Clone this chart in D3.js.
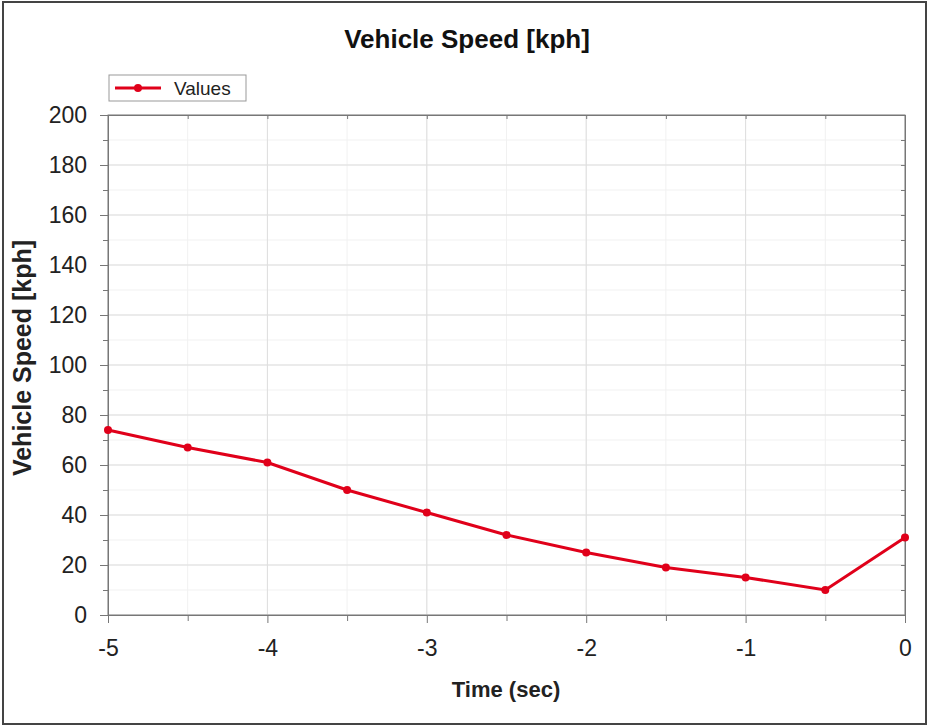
<!DOCTYPE html>
<html>
<head>
<meta charset="utf-8">
<script src="https://cdn.jsdelivr.net/npm/d3@7"></script>
<style>
  body { margin: 0; background: #fff; }
  text { font-family: "Liberation Sans", Arial, sans-serif; }
</style>
</head>
<body>
<svg id="chart" width="930" height="727"></svg>
<script>
// data
var times = [-5, -4.5, -4, -3.5, -3, -2.5, -2, -1.5, -1, -0.5, 0];
var speeds = [74, 67, 61, 50, 41, 32, 25, 19, 15, 10, 31];
var xTicks = [-5, -4, -3, -2, -1, 0];
var yTicks = [0, 20, 40, 60, 80, 100, 120, 140, 160, 180, 200];
var seriesName = "Values";

var svg = d3.select("#chart"),
  W = 930, H = 727,
  m = {left: 108, right: 25, top: 115, bottom: 112},
  x = d3.scaleLinear().domain([-5, 0]).range([m.left, W - m.right]),
  y = d3.scaleLinear().domain([0, 200]).range([H - m.bottom, m.top]),
  red = "#e0001a";

// outer frame
svg.append("rect").attr("x", 3).attr("y", 2).attr("width", W - 7).attr("height", H - 5)
  .attr("fill", "#fff").attr("stroke", "#444").attr("stroke-width", 2);

// grid, minor then major
var grid = svg.append("g");
grid.selectAll(".xm").data(d3.range(-5, 0.01, 0.5)).enter().append("line")
  .attr("x1", function (d) { return x(d); }).attr("x2", function (d) { return x(d); })
  .attr("y1", y(0)).attr("y2", y(200)).attr("stroke", "#f1f1f1");
grid.selectAll(".ym").data(d3.range(0, 201, 10)).enter().append("line")
  .attr("x1", x(-5)).attr("x2", x(0))
  .attr("y1", function (d) { return y(d); }).attr("y2", function (d) { return y(d); })
  .attr("stroke", "#f1f1f1");
grid.selectAll(".xg").data(xTicks).enter().append("line")
  .attr("x1", function (d) { return x(d); }).attr("x2", function (d) { return x(d); })
  .attr("y1", y(0)).attr("y2", y(200)).attr("stroke", "#dedede");
grid.selectAll(".yg").data(yTicks).enter().append("line")
  .attr("x1", x(-5)).attr("x2", x(0))
  .attr("y1", function (d) { return y(d); }).attr("y2", function (d) { return y(d); })
  .attr("stroke", "#dedede");

// plot box
svg.append("rect").attr("x", x(-5)).attr("y", y(200))
  .attr("width", x(0) - x(-5)).attr("height", y(0) - y(200))
  .attr("fill", "none").attr("stroke", "#888").attr("stroke-width", 1);

function styleAxis(g) {
  g.select(".domain").attr("stroke", "#777");
  g.selectAll(".tick line").attr("stroke", "#777");
  g.selectAll("text").attr("font-size", "23px").attr("fill", "#222");
}

// plain hyphen for negatives, as in the reference
function fmt(d) { return String(d); }

// y axis, major and minor ticks
var yAxis = svg.append("g").attr("transform", "translate(" + x(-5) + ",0)")
  .call(d3.axisLeft(y).tickValues(yTicks).tickSize(8).tickPadding(13).tickFormat(fmt));
styleAxis(yAxis);
svg.append("g").attr("transform", "translate(" + x(-5) + ",0)")
  .call(d3.axisLeft(y).tickValues(d3.range(10, 200, 20)).tickSize(5).tickFormat(""))
  .call(styleAxis);
svg.append("g").attr("transform", "translate(" + x(0) + ",0)")
  .call(d3.axisLeft(y).tickValues(d3.range(10, 200, 10)).tickSize(4).tickFormat(""))
  .call(styleAxis);

// x axis
var xAxis = svg.append("g").attr("transform", "translate(0," + y(0) + ")")
  .call(d3.axisBottom(x).tickValues(xTicks).tickSize(8).tickPadding(17).tickFormat(fmt));
styleAxis(xAxis);
svg.append("g").attr("transform", "translate(0," + y(0) + ")")
  .call(d3.axisBottom(x).tickValues(d3.range(-4.5, 0, 1)).tickSize(6).tickFormat(""))
  .call(styleAxis);
svg.append("g").attr("transform", "translate(0," + y(200) + ")")
  .call(d3.axisBottom(x).tickValues(d3.range(-4.5, 0, 0.5)).tickSize(4).tickFormat(""))
  .call(styleAxis);

// series
var pts = times.map(function (t, i) { return [t, speeds[i]]; });
svg.append("path").datum(pts)
  .attr("fill", "none").attr("stroke", red).attr("stroke-width", 3)
  .attr("d", d3.line().x(function (d) { return x(d[0]); }).y(function (d) { return y(d[1]); }));
svg.selectAll(".pt").data(pts).enter().append("circle")
  .attr("cx", function (d) { return x(d[0]); }).attr("cy", function (d) { return y(d[1]); })
  .attr("r", 4).attr("fill", red);

// title and labels
svg.append("text").attr("x", 467).attr("y", 48).attr("text-anchor", "middle")
  .attr("font-size", "26px").attr("font-weight", "bold").attr("fill", "#111")
  .text("Vehicle Speed [kph]");
svg.append("text").attr("x", 506).attr("y", 697).attr("text-anchor", "middle")
  .attr("font-size", "22px").attr("font-weight", "bold").attr("fill", "#222")
  .text("Time (sec)");
svg.append("text").attr("transform", "translate(31,358) rotate(-90)")
  .attr("text-anchor", "middle")
  .attr("font-size", "25px").attr("font-weight", "bold").attr("fill", "#222")
  .text("Vehicle Speed [kph]");

// legend
var lg = svg.append("g").attr("transform", "translate(109,75)");
lg.append("rect").attr("width", 137).attr("height", 26)
  .attr("fill", "#fff").attr("stroke", "#999");
lg.append("line").attr("x1", 6).attr("x2", 52).attr("y1", 13).attr("y2", 13)
  .attr("stroke", red).attr("stroke-width", 3);
lg.append("circle").attr("cx", 29).attr("cy", 13).attr("r", 4).attr("fill", red);
lg.append("text").attr("x", 65).attr("y", 20).attr("font-size", "19px").attr("fill", "#222")
  .text(seriesName);
</script>
</body>
</html>
